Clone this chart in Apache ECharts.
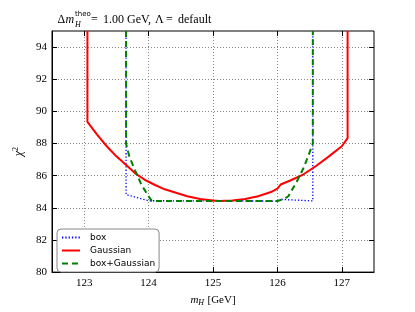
<!DOCTYPE html>
<html><head><meta charset="utf-8">
<script src="https://cdn.jsdelivr.net/npm/echarts@6/dist/echarts.min.js"></script>
<style>html,body{margin:0;padding:0;background:#fff}#c{width:415px;height:312px}</style>
</head><body><div id="c"></div>
<script>
const xTicks = [123, 124, 125, 126, 127];
const yTicks = [80, 82, 84, 86, 88, 90, 92, 94];

const boxX = [123.65, 123.65, 124.0, 126.0, 126.07, 126.55, 126.55];
const boxY = [95, 84.82, 84.44, 84.42, 84.52, 84.43, 95];

const gaussX = [123.05, 123.05, 123.2, 123.35, 123.5, 123.66, 123.8, 123.95, 124.0, 124.1, 124.25, 124.4, 124.6, 124.8, 125.0, 125.1, 125.3, 125.5, 125.7, 125.9, 126.0, 126.05, 126.2, 126.4, 126.6, 126.8, 127.0, 127.09, 127.09];
const gaussY = [95, 89.34, 88.55, 87.83, 87.2, 86.63, 86.12, 85.72, 85.62, 85.42, 85.15, 84.97, 84.72, 84.55, 84.45, 84.42, 84.45, 84.55, 84.72, 84.98, 85.2, 85.45, 85.7, 86.07, 86.6, 87.2, 87.83, 88.33, 95];

const bgX = [123.65, 123.65, 123.7, 123.79, 123.89, 124.0, 124.05, 126.0, 126.1, 126.17, 126.3, 126.4, 126.48, 126.55, 126.55];
const bgY = [95, 88.0, 87.2, 86.33, 85.42, 84.72, 84.43, 84.42, 84.55, 84.72, 85.62, 86.43, 87.23, 88.0, 95];

const seriesNames = ['box', 'Gaussian', 'box+Gaussian'];

const serif = 'Liberation Serif';
const pairs = (xs, ys) => xs.map((x, i) => [x, ys[i]]);
const chart = echarts.init(document.getElementById('c'), null, {renderer: 'canvas'});

const tickStyle = {color: '#000', width: 1};
const gridStyle = {color: '#888', type: [1, 2], width: 1};
const tFont = '12px "Liberation Serif"';
const option = {
  animation: false,
  grid: {left: 52, right: 41, top: 31, bottom: 32, show: true, borderColor: '#000', borderWidth: 1, backgroundColor: '#fff'},
  xAxis: [{
    type: 'value', min: 122.5, max: 127.5, position: 'bottom',
    axisLine: {show: true, lineStyle: {color: '#000'}},
    axisTick: {show: true, inside: true, length: 5, customValues: xTicks, lineStyle: tickStyle},
    axisLabel: {customValues: xTicks, fontFamily: serif, fontSize: 11, color: '#000', margin: 6, formatter: v => String(v)},
    splitLine: {show: true, lineStyle: gridStyle},
    name: '{i|m}{s|H} {n|[GeV]}', nameLocation: 'middle', nameGap: 17,
    nameTextStyle: {rich: {
      i: {fontFamily: serif, fontStyle: 'italic', fontSize: 11, color: '#000'},
      s: {fontFamily: serif, fontStyle: 'italic', fontSize: 8, color: '#000', verticalAlign: 'bottom', padding: [6, 0, 0, 0]},
      n: {fontFamily: serif, fontSize: 11, color: '#000'}
    }}
  }, {
    type: 'value', min: 122.5, max: 127.5, position: 'top',
    axisLine: {show: false},
    axisTick: {show: true, inside: true, length: 5, customValues: xTicks, lineStyle: tickStyle},
    axisLabel: {show: false}, splitLine: {show: false}
  }],
  yAxis: [{
    type: 'value', min: 80, max: 95, position: 'left',
    axisLine: {show: true, lineStyle: {color: '#000'}},
    axisTick: {show: true, inside: true, length: 5, customValues: yTicks, lineStyle: tickStyle},
    axisLabel: {customValues: yTicks, fontFamily: serif, fontSize: 11, color: '#000', margin: 5, formatter: v => String(v)},
    splitLine: {show: true, lineStyle: gridStyle},
    name: '{c|χ}{s|2}', nameLocation: 'middle', nameGap: 12, nameRotate: 90,
    nameTextStyle: {rich: {
      c: {fontFamily: serif, fontStyle: 'italic', fontSize: 12, color: '#000'},
      s: {fontFamily: serif, fontSize: 8, color: '#000', verticalAlign: 'top', padding: [0, 0, 6, 0]}
    }}
  }, {
    type: 'value', min: 80, max: 95, position: 'right',
    axisLine: {show: false},
    axisTick: {show: true, inside: true, length: 5, customValues: yTicks, lineStyle: tickStyle},
    axisLabel: {show: false}, splitLine: {show: false}
  }],
  legend: {
    orient: 'vertical', left: 57, top: 229,
    data: seriesNames,
    itemWidth: 18, itemHeight: 10, itemGap: 4,
    padding: [4, 4, 4, 4],
    itemStyle: {opacity: 0},
    backgroundColor: '#fff', borderColor: '#888', borderWidth: 1, borderRadius: 4,
    textStyle: {fontFamily: 'DejaVu Sans', fontSize: 9, color: '#000', padding: [0, 0, 0, 5]}
  },
  graphic: [
    {type: 'text', left: 57.5, top: 14, style: {text: 'Δ', font: tFont, fill: '#000'}},
    {type: 'text', left: 65.5, top: 14, style: {text: 'm', font: 'italic ' + tFont, fill: '#000'}},
    {type: 'text', left: 75, top: 11, style: {text: 'theo', font: '7px "DejaVu Sans"', fill: '#000'}},
    {type: 'text', left: 75, top: 21, style: {text: 'H', font: 'italic 8px "Liberation Serif"', fill: '#000'}},
    {type: 'text', left: 91, top: 14, style: {text: '=', font: tFont, fill: '#000'}},
    {type: 'text', left: 103, top: 14, style: {text: '1.00', font: tFont, fill: '#000'}},
    {type: 'text', left: 127, top: 14, style: {text: 'GeV,', font: tFont, fill: '#000'}},
    {type: 'text', left: 155, top: 14, style: {text: 'Λ', font: tFont, fill: '#000'}},
    {type: 'text', left: 166, top: 14, style: {text: '=', font: tFont, fill: '#000'}},
    {type: 'text', left: 178, top: 14, style: {text: 'default', font: tFont, fill: '#000'}}
  ],
  series: [
    {name: 'box', type: 'line', data: pairs(boxX, boxY), showSymbol: false, symbol: 'none',
     lineStyle: {color: '#0000ff', width: 1.3, type: [1.3, 2]}, itemStyle: {color: '#0000ff'}, z: 2},
    {name: 'Gaussian', type: 'line', data: pairs(gaussX, gaussY), showSymbol: false, symbol: 'none',
     lineStyle: {color: '#ff0000', width: 2}, itemStyle: {color: '#ff0000'}, z: 3},
    {name: 'box+Gaussian', type: 'line', data: pairs(bgX, bgY), showSymbol: false, symbol: 'none',
     lineStyle: {color: '#008000', width: 2, type: [6, 4]}, itemStyle: {color: '#008000'}, z: 4}
  ]
};
chart.setOption(option);
</script></body></html>
